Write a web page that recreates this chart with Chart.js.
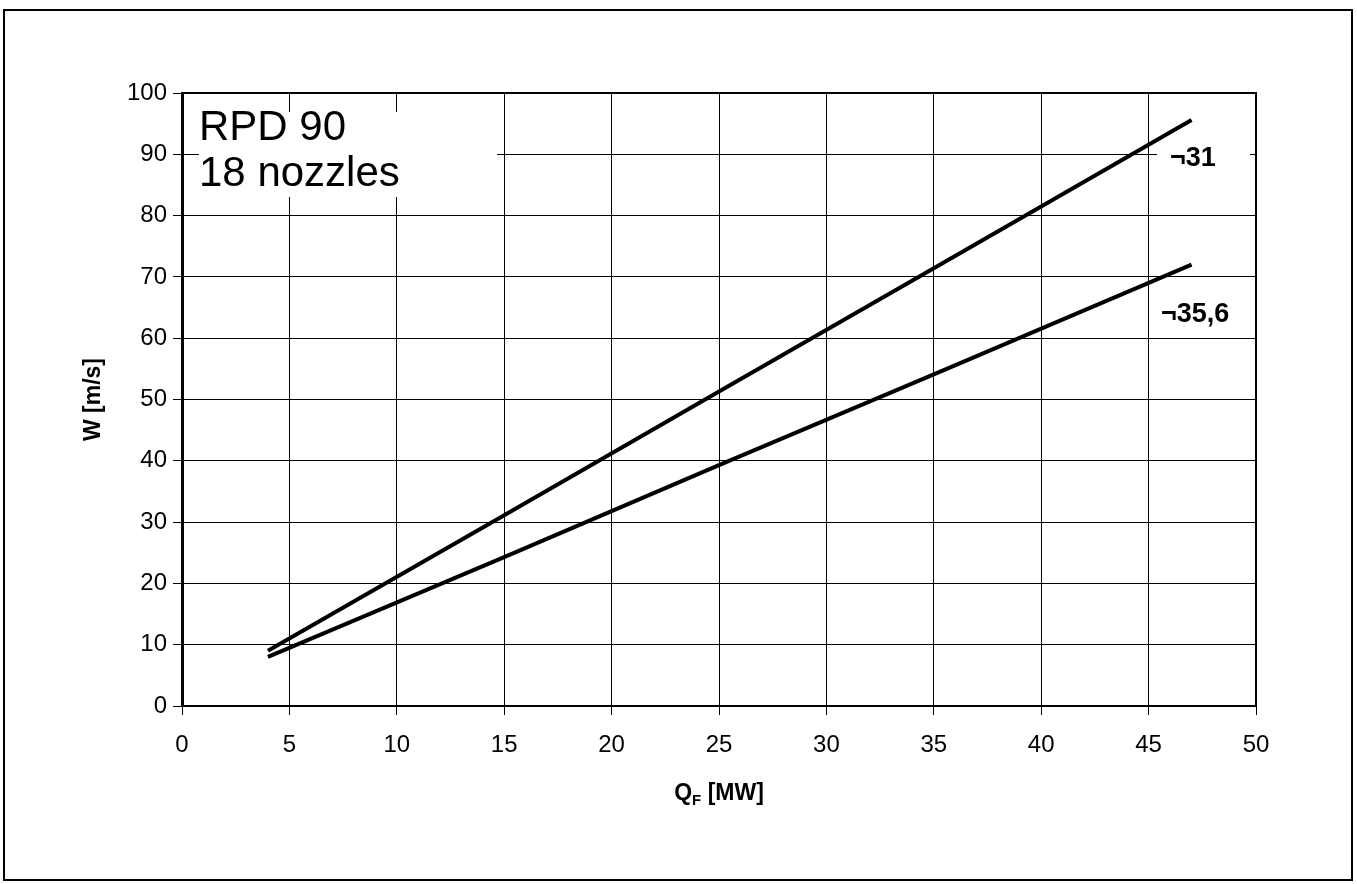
<!DOCTYPE html>
<html>
<head>
<meta charset="utf-8">
<script src="https://cdn.jsdelivr.net/npm/chart.js@4.4.1/dist/chart.umd.min.js"></script>
<style>
  html, body { margin: 0; padding: 0; background: #fff; }
  #wrap { width: 1357px; height: 884px; position: relative; }
</style>
</head>
<body>
<div id="wrap"><canvas id="c" width="1357" height="884"></canvas></div>
<script>
// Heat output Q_F [MW] against velocity W [m/s] for two nozzle diameters
const qF31   = [4, 15, 25, 35, 47];
const w31    = [9, 31.1, 51.3, 71.4, 95.6];
const qF356  = [4, 15, 25, 35, 47];
const w356   = [8, 24.3, 39.3, 54.1, 72.0];
const curveLabels = ['¬31', '¬35,6'];
const xTicks = [0, 5, 10, 15, 20, 25, 30, 35, 40, 45, 50];
const yTicks = [0, 10, 20, 30, 40, 50, 60, 70, 80, 90, 100];
const titleLines = ['RPD 90', '18 nozzles'];

const FONT = '"Liberation Sans", Arial, Helvetica, sans-serif';

const toPoints = (xs, ys) => xs.map((x, i) => ({ x, y: ys[i] }));

// White caption boxes, frame and axis titles
const decor = {
  id: 'decor',
  beforeDatasetsDraw(chart) {
    const { ctx, chartArea: a } = chart;
    const ys = chart.scales.y;
    ctx.save();
    ctx.fillStyle = '#fff';
    // caption box in the upper-left corner
    ctx.fillRect(a.left + 17, a.top + 19, 298, 85);
    // background behind the upper curve label
    ctx.fillRect(a.right - 99, ys.getPixelForValue(90) - 15, 93, 34);
    ctx.restore();
  },
  afterDraw(chart) {
    const { ctx, chartArea: a } = chart;
    const ys = chart.scales.y;
    ctx.save();
    ctx.fillStyle = '#000';
    ctx.strokeStyle = '#000';

    // outer frame
    ctx.lineWidth = 2;
    ctx.strokeRect(4, 10, 1348, 870);

    // top and right edges of the plot area
    ctx.beginPath();
    ctx.moveTo(a.left, a.top); ctx.lineTo(a.right, a.top); ctx.lineTo(a.right, a.bottom);
    ctx.stroke();

    // caption
    ctx.font = '42px ' + FONT;
    ctx.textAlign = 'left';
    ctx.textBaseline = 'alphabetic';
    ctx.fillText(titleLines[0], a.left + 17, a.top + 47);
    ctx.fillText(titleLines[1], a.left + 17, a.top + 93);

    // curve labels
    ctx.font = 'bold 27px ' + FONT;
    ctx.fillText(curveLabels[0], a.right - 86, ys.getPixelForValue(90) + 12);
    ctx.fillText(curveLabels[1], a.right - 95, ys.getPixelForValue(60) - 16);

    // y-axis title
    ctx.font = 'bold 23px ' + FONT;
    ctx.save();
    ctx.translate(94, (a.top + a.bottom) / 2);
    ctx.rotate(-Math.PI / 2);
    ctx.textAlign = 'center';
    ctx.textBaseline = 'middle';
    ctx.fillText('W [m/s]', 0, 0);
    ctx.restore();

    // x-axis title with subscript
    const cx = (a.left + a.right) / 2;
    const by = 800;
    ctx.font = 'bold 23px ' + FONT;
    const wQ = ctx.measureText('Q').width;
    ctx.font = 'bold 15px ' + FONT;
    const wF = ctx.measureText('F').width;
    ctx.font = 'bold 23px ' + FONT;
    const rest = ' [MW]';
    const wR = ctx.measureText(rest).width;
    const x0 = cx - (wQ + wF + wR) / 2;
    ctx.textAlign = 'left';
    ctx.textBaseline = 'alphabetic';
    ctx.fillText('Q', x0, by);
    ctx.font = 'bold 15px ' + FONT;
    ctx.fillText('F', x0 + wQ, by + 5);
    ctx.font = 'bold 23px ' + FONT;
    ctx.fillText(rest, x0 + wQ + wF, by);
    ctx.restore();
  }
};

new Chart(document.getElementById('c'), {
  type: 'scatter',
  data: {
    datasets: [
      { label: curveLabels[0], data: toPoints(qF31, w31) },
      { label: curveLabels[1], data: toPoints(qF356, w356) }
    ].map(d => Object.assign(d, {
      showLine: true, borderColor: '#000', backgroundColor: '#000',
      borderWidth: 4, pointRadius: 0, tension: 0, borderCapStyle: 'butt'
    }))
  },
  options: {
    responsive: false,
    animation: false,
    events: [],
    layout: { padding: { left: 0, top: 93, right: 101, bottom: 0 } },
    plugins: { legend: { display: false }, tooltip: { enabled: false } },
    scales: {
      x: {
        type: 'linear', min: 0, max: 50,
        afterBuildTicks: s => { s.ticks = xTicks.map(v => ({ value: v })); },
        afterFit: s => { s.height = 178; },
        ticks: { color: '#000', font: { family: FONT, size: 24 }, padding: 16, maxRotation: 0 },
        grid: { color: '#000', lineWidth: 1, tickLength: 9, tickColor: '#000' },
        border: { display: true, color: '#000', width: 2 }
      },
      y: {
        type: 'linear', min: 0, max: 100,
        afterBuildTicks: s => { s.ticks = yTicks.map(v => ({ value: v })); },
        afterFit: s => { s.width = 182; },
        ticks: { color: '#000', font: { family: FONT, size: 24 }, padding: 6 },
        grid: { color: '#000', lineWidth: 1, tickLength: 9, tickColor: '#000' },
        border: { display: true, color: '#000', width: 3 }
      }
    }
  },
  plugins: [decor]
});
</script>
</body>
</html>
